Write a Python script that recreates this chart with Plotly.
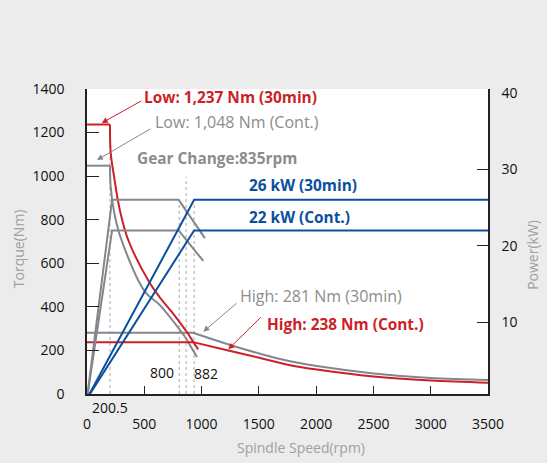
import plotly.graph_objects as go

# ---------------- data ----------------
# Low gear torque, 30 min (red)
low30_rpm = [0, 200.5, 207, 236, 286, 359, 548, 636, 738, 865, 970]
low30_nm  = [1237, 1237, 1106, 999, 846, 708, 509, 443, 378, 290, 205]
# Low gear torque, continuous (gray)
lowc_rpm = [0, 200.5, 207, 233, 286, 505, 636, 855, 960]
lowc_nm  = [1048, 1048, 950, 846, 730, 470, 408, 263, 170]
# High gear torque, 30 min (gray)
high30_rpm = [0, 925, 1250, 1598, 1773, 2006, 2502, 3000, 3500]
high30_nm  = [281, 281, 225, 172, 150, 128, 94, 73, 64]
# High gear torque, continuous (red)
highc_rpm = [0, 925, 1233, 1598, 1773, 2006, 2502, 3000, 3500]
highc_nm  = [238, 238, 200, 154, 132, 112, 80, 62, 52]
# High gear power (blue), kW
hp30_rpm = [0, 935, 3500]
hp30_kw  = [0, 26, 26]
hpc_rpm = [0, 935, 3500]
hpc_kw  = [0, 22, 22]
# Low gear power (gray), kW
lp30_rpm = [0, 219, 800, 1029]
lp30_kw  = [0, 26, 26, 21.0]
lpc_rpm = [0, 219, 800, 1015]
lpc_kw  = [0, 22, 22, 18.0]
# dotted reference lines: (rpm, top torque)
ref_rpm = [200.5, 805, 865, 935]
ref_top = [1237, 877, 997, 877]

x_ticks = [0, 500, 1000, 1500, 2000, 2500, 3000, 3500]
y_ticks = [0, 200, 400, 600, 800, 1000, 1200, 1400]
y2_ticks = [10, 20, 30, 40]

RED = "#cc1f28"
BLUE = "#0b4f9f"
GRAY = "#85858d"
GTXT = "#8c8c8c"
TTL = "#a0a0a0"
BG = "#ebeceb"
FONT = "Open Sans"

fig = go.Figure()

for r, t in zip(ref_rpm, ref_top):
    fig.add_trace(go.Scatter(x=[r, r], y=[0, t], mode="lines",
                             line=dict(color="#a8a8a8", width=1, dash="dot"),
                             hoverinfo="skip", showlegend=False))

def line(x, y, color, axis="y", shape="linear"):
    fig.add_trace(go.Scatter(x=x, y=y, mode="lines", yaxis=axis,
                             line=dict(color=color, width=2, shape=shape),
                             showlegend=False, hoverinfo="skip"))

def curve(x, y, color, i_flat_end, i_smooth_end):
    line(x[:i_flat_end + 1], y[:i_flat_end + 1], color)
    line(x[i_flat_end:i_smooth_end + 1], y[i_flat_end:i_smooth_end + 1], color, shape="spline")
    if i_smooth_end < len(x) - 1:
        line(x[i_smooth_end:], y[i_smooth_end:], color)

line(lp30_rpm, lp30_kw, GRAY, "y2")
line(lpc_rpm, lpc_kw, GRAY, "y2")
curve(lowc_rpm, lowc_nm, GRAY, 1, 7)
curve(high30_rpm, high30_nm, GRAY, 1, len(high30_rpm) - 1)
line(hp30_rpm, hp30_kw, BLUE, "y2")
line(hpc_rpm, hpc_kw, BLUE, "y2")
curve(low30_rpm, low30_nm, RED, 1, 9)
curve(highc_rpm, highc_nm, RED, 1, len(highc_rpm) - 1)

ann = []
def txt(x, y, s, color, bold=False, size=15.4, xanchor="left", xref="x", yref="y", angle=0):
    ann.append(dict(x=x, y=y, xref=xref, yref=yref, text=f"<b>{s}</b>" if bold else s,
                    showarrow=False, xanchor=xanchor, yanchor="middle", textangle=angle,
                    font=dict(family=FONT, size=size, color=color)))

def arrow(tx, ty, hx, hy, color):
    ann.append(dict(x=hx, y=hy, ax=tx, ay=ty, xref="x", yref="y", axref="x", ayref="y",
                    text="", showarrow=True, arrowhead=2, arrowsize=1.2, arrowwidth=1,
                    arrowcolor=color))

txt(479, 1359, "Low: 1,237 Nm (30min)", RED, bold=True)
arrow(487, 1349, 129, 1244, RED)
txt(575, 1248, "Low: 1,048 Nm (Cont.)", GTXT, size=16)
arrow(566, 1221, 87, 1074, GRAY)
txt(417, 1083, "Gear Change:835rpm", GTXT, bold=True)
txt(1397, 959, "26 kW (30min)", BLUE, bold=True)
txt(1397, 812, "22 kW (Cont.)", BLUE, bold=True)
txt(1320, 450, "High: 281 Nm (30min)", GTXT, size=16)
arrow(1318, 422, 1015, 286, GRAY)
txt(1554, 321, "High: 238 Nm (Cont.)", RED, bold=True)
arrow(1528, 358, 1233, 205, RED)
txt(653, 101, "800", "#111", size=14, xanchor="center")
txt(1038, 96, "882", "#111", size=14, xanchor="center")
txt(200.5, -0.043, "200.5", "#111", size=14, xanchor="center", yref="paper")
# axis titles
txt(0.534, -0.174, "Spindle Speed(rpm)", TTL, size=14, xanchor="center", xref="paper", yref="paper")
txt(-0.172, 0.475, "Torque(Nm)", TTL, size=14, xanchor="center", xref="paper", yref="paper", angle=-90)
txt(1.112, 0.456, "Power(kW)", TTL, size=14, xanchor="center", xref="paper", yref="paper", angle=-90)

axis_common = dict(showline=True, linecolor="#222", linewidth=1.5, showgrid=False,
                   zeroline=False, ticks="", tickfont=dict(family=FONT, size=14, color="#111"))

fig.update_layout(
    width=547, height=463,
    margin=dict(l=87, r=59, t=89, b=69),
    paper_bgcolor=BG, plot_bgcolor="white",
    font=dict(family=FONT),
    annotations=ann,
    xaxis=dict(range=[0, 3500], tickmode="array", tickvals=x_ticks,
               minor=dict(tickmode="array", tickvals=x_ticks[1:-1], ticks="inside",
                          ticklen=8, tickwidth=1.2, tickcolor="#222"),
               ticklabelstandoff=16, **axis_common),
    yaxis=dict(range=[0, 1400], tickmode="array", tickvals=y_ticks,
               minor=dict(tickmode="array", tickvals=y_ticks[1:-1], ticks="inside",
                          ticklen=12, tickwidth=1.2, tickcolor="#222"),
               ticklabelstandoff=18, **axis_common),
    yaxis2=dict(range=[0.6, 40.5], overlaying="y", side="right",
                tickmode="array", tickvals=y2_ticks,
                minor=dict(tickmode="array", tickvals=y2_ticks[:-1], ticks="inside",
                           ticklen=11, tickwidth=1.2, tickcolor="#222"),
                ticklabelstandoff=9, **axis_common),
)

fig.write_html("out.html", config={"displayModeBar": False},
               post_script="document.body.style.margin='0';"
                           f"document.body.style.background='{BG}';")
